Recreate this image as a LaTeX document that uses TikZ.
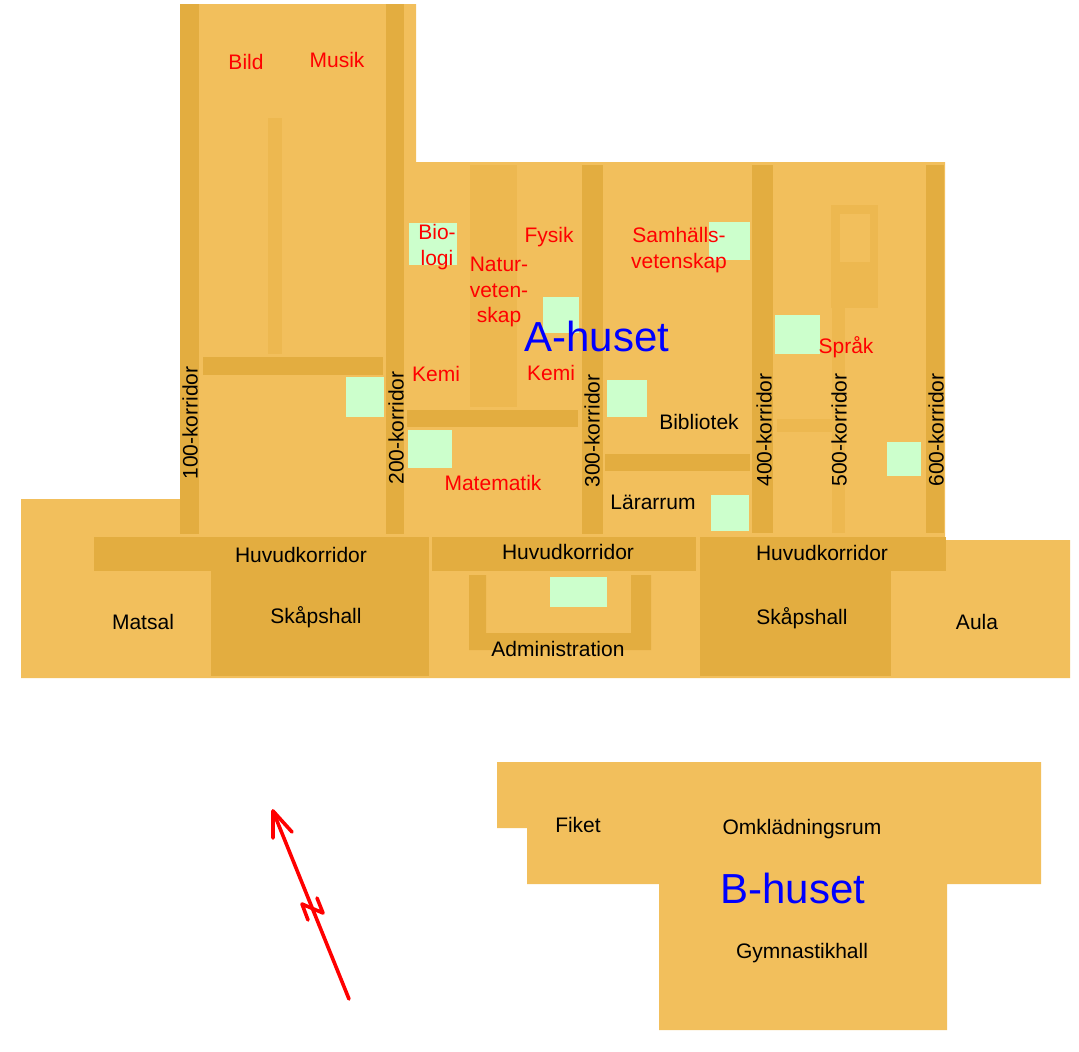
\documentclass[tikz,border=0pt]{standalone}
\usepackage{fontspec}
\setmainfont{Liberation Sans}
\definecolor{golv}{HTML}{F2BF5C}
\definecolor{korr}{HTML}{E3AD40}
\definecolor{smal}{HTML}{EDB850}
\definecolor{grön}{HTML}{CCFFCC}
\tikzset{
    namn/.style={inner sep=0,align=center,font=\fontsize{21}{25.5}\selectfont},
    rum/.style={namn,text=red},
    hus/.style={inner sep=0,text=blue,font=\fontsize{42}{50}\selectfont},
    korridor/.style={namn,rotate=90},
    pil/.style={red,line width=3.6pt,line cap=round,line join=round}
}
\begin{document}
\begin{tikzpicture}[x=1pt,y=-1pt]
    \useasboundingbox (0,0) rectangle (1079,1052);
    % husen
    \fill[golv] (180,4) -- (416,4) -- (416,162) -- (945,162) -- (945,540) -- (1070,540) -- (1070,678) -- (21,678) -- (21,499) -- (180,499) -- cycle;
    \fill[golv] (497,762) -- (1041,762) -- (1041,884) -- (947,884) -- (947,1030) -- (659,1030) -- (659,884) -- (527,884) -- (527,828) -- (497,828) -- cycle;
    % korridorer
    \fill[korr] (180,4) rectangle (199,534);
    \fill[korr] (386,4) rectangle (404,534);
    \fill[korr] (582,165) rectangle (603,534);
    \fill[korr] (752,165) rectangle (773,533);
    \fill[korr] (926,165) rectangle (944,533);
    \fill[korr] (203,357) rectangle (383,375);
    \fill[korr] (407,410) rectangle (578,427);
    \fill[korr] (605,454) rectangle (750,471);
    \fill[korr] (94,537) rectangle (429,571);
    \fill[korr] (432,537) rectangle (696,571);
    \fill[korr] (700,537) rectangle (946,571);
    \fill[korr] (211,571) rectangle (429,676);
    \fill[korr] (700,571) rectangle (891,676);
    \fill[korr] (469,575) -- (486,575) -- (486,633) -- (631,633) -- (631,575) -- (651,575) -- (651,650) -- (469,650) -- cycle;
    % smala stråk
    \fill[smal] (268,118) rectangle (282,354);
    \fill[smal] (470,165) rectangle (517,407);
    \fill[smal] (831,205) rectangle (878,308);
    \fill[golv] (840,214) rectangle (870,262);
    \fill[smal] (832,308) rectangle (845,533);
    \fill[smal] (777,419) rectangle (832,432);
    % gårdar
    \foreach \xa/\ya/\xb/\yb in {409/223/457/265,543/297/579/333,346/377/384/417,408/430/452/468,607/380/647/417,709/222/750/260,775/315/820/354,887/442/921/476,711/495/749/531,550/577/607/607}
        \fill[grön] (\xa,\ya) rectangle (\xb,\yb);
    % texter
    \node[hus] (ahuset) at (597,336) {A-huset};
    \node[hus] (bhuset) at (793,888) {B-huset};
    \node[rum] (bild) at (246,62) {Bild};
    \node[rum] (musik) at (337,60) {Musik};
    \node[rum] (biologi) at (437,247) {Bio-\\logi};
    \node[rum] (fysik) at (549,237) {Fysik};
    \node[rum] (naturvet) at (499,292) {Natur-\\veten-\\skap};
    \node[rum] (samhall) at (679,250) {Samhälls-\\vetenskap};
    \node[rum] (kemia) at (436,374) {Kemi};
    \node[rum] (kemib) at (551,373) {Kemi};
    \node[rum] (matte) at (493,483) {Matematik};
    \node[rum] (sprak) at (846,347) {Språk};
    \node[namn] (bibliotek) at (699,422) {Bibliotek};
    \node[namn] (lararrum) at (653,502) {Lärarrum};
    \node[namn] (huvuda) at (301,555) {Huvudkorridor};
    \node[namn] (huvudb) at (568,552) {Huvudkorridor};
    \node[namn] (huvudc) at (822,553) {Huvudkorridor};
    \node[namn] (matsal) at (143,622) {Matsal};
    \node[namn] (skapa) at (316,617) {Skåpshall};
    \node[namn] (skapb) at (802,618) {Skåpshall};
    \node[namn] (aula) at (977,622) {Aula};
    \node[namn] (admin) at (558,649) {Administration};
    \node[namn] (fiket) at (578,825) {Fiket};
    \node[namn] (omkl) at (802,829) {Omklädningsrum};
    \node[namn] (gymnastik) at (802,953) {Gymnastikhall};
    \node[korridor] (ka) at (190,423) {100-korridor};
    \node[korridor] (kb) at (396,428) {200-korridor};
    \node[korridor] (kc) at (592,431) {300-korridor};
    \node[korridor] (kd) at (764,430) {400-korridor};
    \node[korridor] (ke) at (839,430) {500-korridor};
    \node[korridor] (kf) at (936,430) {600-korridor};
    % norrpil
    \coordinate (spets) at (273,811);
    \coordinate (fot) at (349,999);
    \draw[pil] (fot) -- (spets);
    \draw[pil] (273,838) -- (spets) -- (292,832);
    \draw[pil] (308,920) -- (302,904) -- (323,913) -- (317,898);
\end{tikzpicture}
\end{document}
